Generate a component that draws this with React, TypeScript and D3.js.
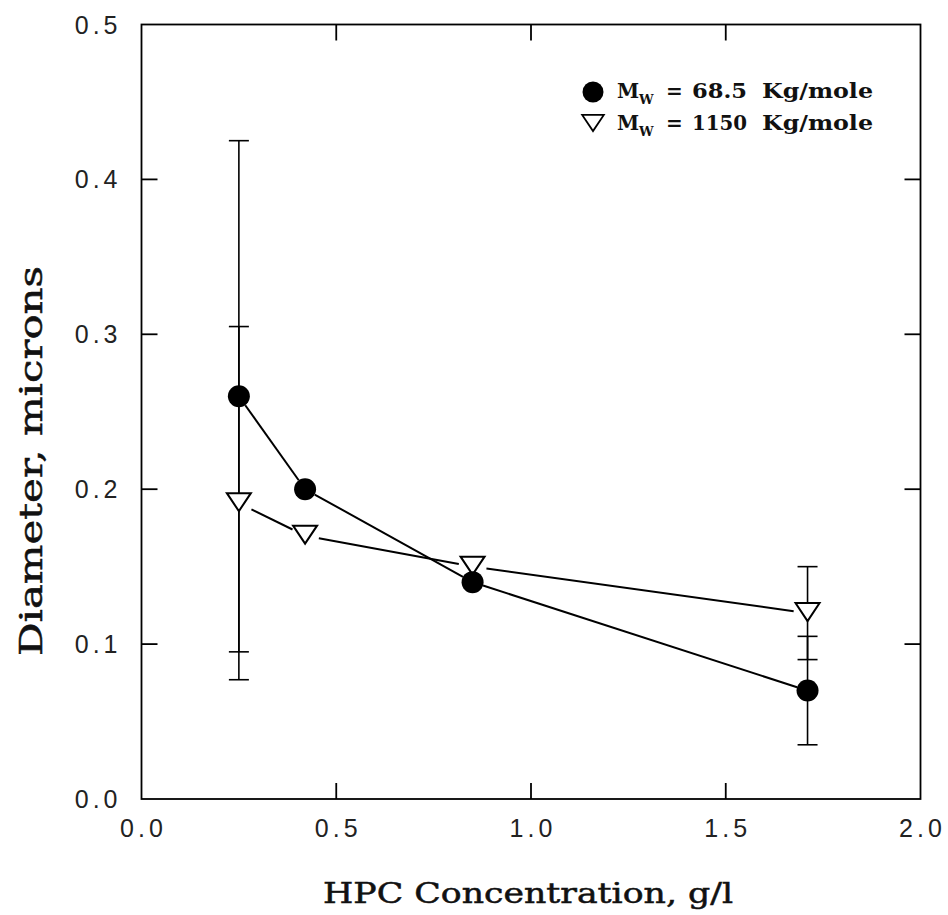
import React, { useEffect, useRef } from 'react';
import * as d3 from 'd3';

// HPC concentration, g/l
const concentrations = [0.25, 0.42, 0.85, 1.71];
// Mw = 68.5 Kg/mole
const lowMwDiameter = [0.26, 0.2, 0.14, 0.07];
const lowMwError = [0.165, null, null, 0.035];
// Mw = 1150 Kg/mole
const highMwDiameter = [0.191, 0.17, 0.15, 0.12];
const highMwError = [0.114, null, null, 0.03];

const xTicks = [0, 0.5, 1.0, 1.5, 2.0];
const yTicks = [0, 0.1, 0.2, 0.3, 0.4, 0.5];
const legendValues = ['68.5', '1150'];

const W = 948, H = 915;
const margin = { top: 24.5, right: 27.5, bottom: 116, left: 141.5 };

export default function App() {
  const ref = useRef(null);

  useEffect(() => {
    const svg = d3.select(ref.current);
    svg.selectAll('*').remove();

    const x = d3.scaleLinear().domain([0, 2]).range([margin.left, W - margin.right]);
    const y = d3.scaleLinear().domain([0, 0.5]).range([H - margin.bottom, margin.top]);
    const tick = 16;
    const tickFont = '"Liberation Sans", Arial, sans-serif';
    const serif = '"DejaVu Serif", serif';

    // frame
    svg.append('rect')
      .attr('x', x(0)).attr('y', y(0.5))
      .attr('width', x(2) - x(0)).attr('height', y(0) - y(0.5))
      .attr('fill', 'none').attr('stroke', '#000').attr('stroke-width', 1.8);

    // inward ticks on all four sides
    const tg = svg.append('g').attr('stroke', '#000').attr('stroke-width', 1.8);
    xTicks.slice(1, -1).forEach(t => {
      tg.append('line').attr('x1', x(t)).attr('x2', x(t)).attr('y1', y(0)).attr('y2', y(0) - tick);
      tg.append('line').attr('x1', x(t)).attr('x2', x(t)).attr('y1', y(0.5)).attr('y2', y(0.5) + tick);
    });
    yTicks.slice(1, -1).forEach(t => {
      tg.append('line').attr('x1', x(0)).attr('x2', x(0) + tick).attr('y1', y(t)).attr('y2', y(t));
      tg.append('line').attr('x1', x(2)).attr('x2', x(2) - tick).attr('y1', y(t)).attr('y2', y(t));
    });

    // tick labels
    svg.append('g').selectAll('text').data(xTicks).enter().append('text')
      .attr('x', d => x(d) + 2).attr('y', y(0) + 38)
      .attr('text-anchor', 'middle')
      .style('font-family', tickFont).style('font-size', '25px')
      .style('letter-spacing', '4px').attr('fill', '#222')
      .text(d => d.toFixed(1));
    svg.append('g').selectAll('text').data(yTicks).enter().append('text')
      .attr('x', x(0) - 20).attr('y', d => y(d) + 9)
      .attr('text-anchor', 'end')
      .style('font-family', tickFont).style('font-size', '25px')
      .style('letter-spacing', '4px').attr('fill', '#222')
      .text(d => d.toFixed(1));

    // axis titles
    svg.append('text')
      .attr('x', 323).attr('y', 903)
      .attr('textLength', 410).attr('lengthAdjust', 'spacingAndGlyphs')
      .style('font-family', serif).style('font-size', '27px')
      .attr('fill', '#111').attr('stroke', '#111').attr('stroke-width', 0.5)
      .text('HPC Concentration, g/l');
    svg.append('text')
      .attr('transform', `translate(42,656) rotate(-90)`)
      .attr('textLength', 390).attr('lengthAdjust', 'spacingAndGlyphs')
      .style('font-family', serif).style('font-size', '31px')
      .attr('fill', '#111').attr('stroke', '#111').attr('stroke-width', 0.5)
      .text('Diameter, microns');

    // error bars
    const cap = 10;
    const drawErr = (ys, errs) => {
      concentrations.forEach((c, i) => {
        const e = errs[i];
        if (e == null) return;
        const g = svg.append('g').attr('stroke', '#000').attr('stroke-width', 1.6);
        g.append('line').attr('x1', x(c)).attr('x2', x(c)).attr('y1', y(ys[i] - e)).attr('y2', y(ys[i] + e));
        [ys[i] - e, ys[i] + e].forEach(v => {
          g.append('line').attr('x1', x(c) - cap).attr('x2', x(c) + cap).attr('y1', y(v)).attr('y2', y(v));
        });
      });
    };
    drawErr(lowMwDiameter, lowMwError);
    drawErr(highMwDiameter, highMwError);

    // connecting lines, stopping short of the markers
    const line = d3.line();
    const drawSeries = (ys, gap) => {
      const pts = concentrations.map((c, i) => [x(c), y(ys[i])]);
      for (let i = 0; i < pts.length - 1; i++) {
        const [x1, y1] = pts[i], [x2, y2] = pts[i + 1];
        const len = Math.hypot(x2 - x1, y2 - y1);
        const ux = (x2 - x1) / len, uy = (y2 - y1) / len;
        svg.append('path')
          .attr('d', line([[x1 + ux * gap, y1 + uy * gap], [x2 - ux * gap, y2 - uy * gap]]))
          .attr('fill', 'none').attr('stroke', '#000').attr('stroke-width', 2);
      }
    };
    drawSeries(lowMwDiameter, 11);
    drawSeries(highMwDiameter, 14);

    // markers
    const tri = (cx, cy, s = 1) => {
      const w = 12 * s, h = 9 * s;
      return `M${cx - w},${cy - h}L${cx + w},${cy - h}L${cx},${cy + h}Z`;
    };
    concentrations.forEach((c, i) => {
      svg.append('path').attr('d', tri(x(c), y(highMwDiameter[i]) - 1))
        .attr('fill', '#fff').attr('stroke', '#000').attr('stroke-width', 2);
    });
    concentrations.forEach((c, i) => {
      svg.append('circle').attr('cx', x(c)).attr('cy', y(lowMwDiameter[i])).attr('r', 11).attr('fill', '#000');
    });

    // legend
    const lg = svg.append('g').style('font-family', serif).style('font-weight', 'bold').attr('fill', '#111');
    lg.append('circle').attr('cx', 593).attr('cy', 92).attr('r', 10.5).attr('fill', '#000');
    lg.append('path').attr('d', tri(593, 123, 0.9)).attr('fill', '#fff').attr('stroke', '#000').attr('stroke-width', 1.8);
    legendValues.forEach((v, k) => {
      const ty = 98 + k * 32;
      lg.append('text').attr('x', 617).attr('y', ty).style('font-size', '20px').text('M');
      lg.append('text').attr('x', 639).attr('y', ty + 6).style('font-size', '13px').text('W');
      lg.append('text').attr('x', 666).attr('y', ty).style('font-size', '20px').text('=');
      lg.append('text').attr('x', 692).attr('y', ty).attr('textLength', 55).attr('lengthAdjust', 'spacingAndGlyphs')
        .style('font-size', '20px').text(v);
      lg.append('text').attr('x', 762).attr('y', ty).attr('textLength', 111).attr('lengthAdjust', 'spacingAndGlyphs')
        .style('font-size', '20px').text('Kg/mole');
    });
  }, []);

  return (
    <svg ref={ref} width={W} height={H} style={{ display: 'block', position: 'absolute', left: 0, top: 0, background: '#fff' }} />
  );
}
